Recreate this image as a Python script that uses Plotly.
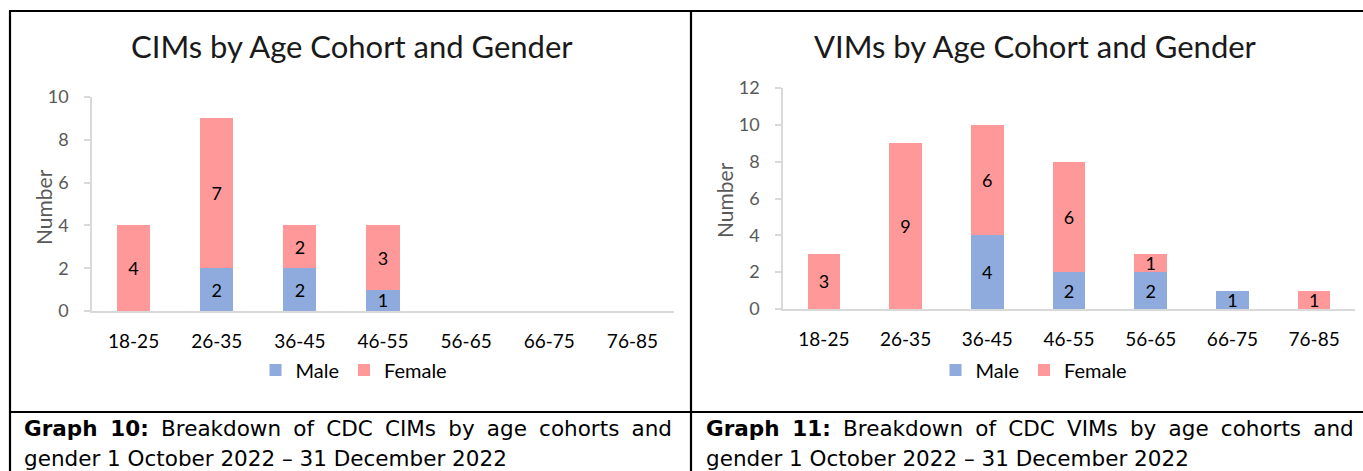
import plotly.graph_objects as go

W, H = 1363, 471

age_cohorts = ["18-25", "26-35", "36-45", "46-55", "56-65", "66-75", "76-85"]
cim_male = [0, 2, 2, 1, 0, 0, 0]
cim_female = [4, 7, 2, 3, 0, 0, 0]
vim_male = [0, 0, 4, 2, 2, 1, 0]
vim_female = [3, 9, 6, 6, 1, 0, 1]

titles = ["CIMs by Age Cohort and Gender", "VIMs by Age Cohort and Gender"]
captions = [
    ("Graph 10:", "Breakdown of CDC CIMs by age cohorts and", "gender 1 October 2022 \u2013 31 December 2022"),
    ("Graph 11:", "Breakdown of CDC VIMs by age cohorts and", "gender 1 October 2022 \u2013 31 December 2022"),
]

MALE_C = "#8FAADC"
FEMALE_C = "#FF9999"
FONT = "Lato"


def px(x):
    return x / W


def py(y):
    return 1 - y / H


def lbl(vals):
    return [str(v) if v else "" for v in vals]


fig = go.Figure()

series = [
    (cim_male, cim_female, "x", "y", "legend"),
    (vim_male, vim_female, "x2", "y2", "legend2"),
]
for m, f, xa, ya, lg in series:
    fig.add_trace(go.Bar(x=age_cohorts, y=m, name="Male", marker_color=MALE_C,
                         text=lbl(m), textposition="inside", insidetextanchor="middle",
                         constraintext="none", textangle=0,
                         textfont=dict(family=FONT, size=18, color="black"),
                         xaxis=xa, yaxis=ya, legend=lg))
    fig.add_trace(go.Bar(x=age_cohorts, y=f, name="Female", marker_color=FEMALE_C,
                         text=lbl(f), textposition="inside", insidetextanchor="middle",
                         constraintext="none", textangle=0,
                         textfont=dict(family=FONT, size=18, color="black"),
                         xaxis=xa, yaxis=ya, legend=lg))

axis_common_x = dict(showline=True, linecolor="#d9d9d9", linewidth=2, showgrid=False,
                     ticks="", tickfont=dict(family=FONT, size=19, color="black"),
                     ticklabelstandoff=12, fixedrange=True, automargin=False)
axis_common_y = dict(showline=True, linecolor="#d9d9d9", linewidth=1.5, showgrid=False,
                     zeroline=False, ticks="outside", ticklen=6, tickcolor="#d9d9d9",
                     tickwidth=1.5, tickfont=dict(family=FONT, size=18, color="#595959"),
                     ticklabelstandoff=12, fixedrange=True, automargin=False)

leg = dict(orientation="h", yanchor="middle", traceorder="normal",
           font=dict(family=FONT, size=20, color="black"), itemwidth=30,
           bgcolor="rgba(0,0,0,0)")

fig.update_layout(
    template="none",
    width=W, height=H,
    margin=dict(l=0, r=0, t=0, b=0, pad=0, autoexpand=False),
    paper_bgcolor="white", plot_bgcolor="white",
    barmode="stack", bargap=0.6,
    xaxis=dict(domain=[px(92), px(674)], anchor="y", **axis_common_x),
    yaxis=dict(domain=[py(311), py(97)], range=[0, 10], dtick=2, anchor="x", **axis_common_y),
    xaxis2=dict(domain=[px(783), px(1355)], anchor="y2", **axis_common_x),
    yaxis2=dict(domain=[py(309), py(88)], range=[0, 12], dtick=2, anchor="x2", **axis_common_y),
    legend=dict(x=px(354), xanchor="center", y=py(370), **leg),
    legend2=dict(x=px(1034), xanchor="center", y=py(370), **leg),
)

# chart titles
for t, cx in zip(titles, [352, 1035]):
    fig.add_annotation(text=t, x=px(cx), y=py(46), xref="paper", yref="paper",
                       showarrow=False, xanchor="center", yanchor="middle",
                       font=dict(family=FONT, size=31, color="#1a1a1a"))

# y-axis titles
for cx, cy in [(43, 207), (724, 200)]:
    fig.add_annotation(text="Number", x=px(cx), y=py(cy), xref="paper", yref="paper",
                       showarrow=False, textangle=-90, xanchor="center", yanchor="middle",
                       font=dict(family=FONT, size=21, color="#595959"))

# captions (first line justified by widening word gaps)
GAP = " \u2005"
for (bold, rest, line2), x0 in zip(captions, [22, 704]):
    words = bold.split(" ")
    first = "<b>" + GAP.join(words) + "</b>" + GAP + GAP.join(rest.split(" "))
    fig.add_annotation(text=first, x=px(x0), y=py(428), xref="paper",
                       yref="paper", showarrow=False, xanchor="left", yanchor="middle",
                       font=dict(family="DejaVu Sans", size=21.5, color="black"))
    fig.add_annotation(text=line2, x=px(x0), y=py(458), xref="paper",
                       yref="paper", showarrow=False, xanchor="left", yanchor="middle",
                       font=dict(family="DejaVu Sans", size=21.5, color="black"))

# table borders
lines = [
    (9, 11, W, 11),
    (10, 11, 10, H),
    (691, 11, 691, H),
    (9, 412, W, 412),
]
for x0, y0, x1, y1 in lines:
    fig.add_shape(type="line", xref="paper", yref="paper", x0=px(x0), y0=py(y0),
                  x1=px(x1), y1=py(y1), line=dict(color="black", width=2.2))

fig.write_html("out.html", config={"displayModeBar": False},
               post_script="document.body.style.margin='0';document.body.style.overflow='hidden';")
